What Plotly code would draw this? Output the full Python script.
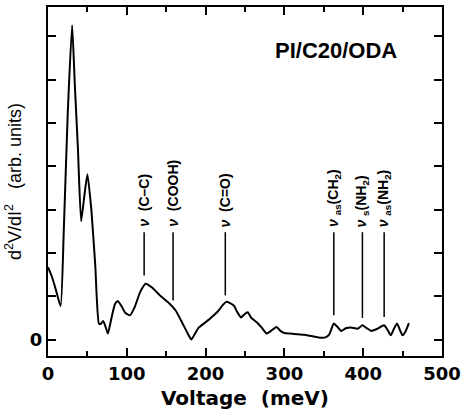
import plotly.graph_objects as go

# Spectrum (voltage in meV, d2V/dI2 in arbitrary units)
voltage = [0, 5, 10, 16, 20, 25, 30.6, 34, 38, 42, 46, 50, 55, 60, 64.6, 67, 70, 73, 76, 80,
           85, 88.5, 93, 98, 104, 110, 117, 124, 132, 142, 153.7, 162, 170, 177, 182, 186,
           191, 200, 208, 216, 222, 226, 231, 236, 240, 245, 249, 253.5, 258, 265, 271,
           277.5, 283, 290, 295, 300, 308, 317, 325, 334, 343, 352, 357, 362.7, 367, 372,
           378, 384.5, 393, 399, 404, 410, 418, 426.5, 431, 435, 439, 443, 447, 450, 454, 458]
signal = [1.67, 1.45, 1.15, 0.77, 2.5, 5.2, 7.26, 5.9, 4.4, 2.73, 3.3, 3.82, 3.0, 1.7, 0.37,
          0.36, 0.43, 0.3, 0.14, 0.45, 0.82, 0.89, 0.78, 0.62, 0.56, 0.75, 1.1, 1.29, 1.2,
          1.02, 0.84, 0.67, 0.4, 0.15, 0.0, 0.12, 0.27, 0.4, 0.52, 0.66, 0.8, 0.87, 0.84,
          0.78, 0.64, 0.51, 0.58, 0.63, 0.5, 0.4, 0.28, 0.14, 0.2, 0.29, 0.2, 0.15, 0.14,
          0.12, 0.11, 0.08, 0.05, 0.05, 0.12, 0.37, 0.3, 0.2, 0.26, 0.28, 0.25, 0.33, 0.27,
          0.2, 0.25, 0.33, 0.22, 0.1, 0.25, 0.37, 0.2, 0.1, 0.2, 0.38]

# Mode assignments
mode_pos = [122, 158.7, 225, 362.7, 399, 426.6]
mode_line_bottom = [1.48, 0.9, 1.02, 0.56, 0.5, 0.52]
mode_line_top = [2.48, 2.48, 2.48, 2.48, 2.48, 2.48]
mode_labels = ["<i>ν</i>  (C–C)", "<i>ν</i>  (COOH)", "<i>ν</i>  (C=O)",
               "<i>ν</i> <sub>as</sub>(CH<sub>2</sub>)", "<i>ν</i> <sub>s</sub>(NH<sub>2</sub>)",
               "<i>ν</i> <sub>as</sub>(NH<sub>2</sub>)"]

x_ticks = [0, 100, 200, 300, 400, 500]
y_ticks = [0, 1, 2, 3, 4, 5, 6, 7]
y_ticktext = ["0", "", "", "", "", "", "", ""]

fig = go.Figure()
fig.add_trace(go.Scatter(x=voltage, y=signal, mode="lines",
                         line=dict(color="black", width=2, shape="spline", smoothing=0.5),
                         showlegend=False, hoverinfo="skip"))

lx, ly = [], []
for p, b, t in zip(mode_pos, mode_line_bottom, mode_line_top):
    lx += [p, p, None]
    ly += [b, t, None]
fig.add_trace(go.Scatter(x=lx, y=ly, mode="lines",
                         line=dict(color="black", width=1.5), showlegend=False,
                         hoverinfo="skip"))

for p, t, lab in zip(mode_pos, mode_line_top, mode_labels):
    fig.add_annotation(x=p, y=t, text=lab, textangle=-90, showarrow=False,
                       xanchor="center", yanchor="bottom", yshift=3,
                       font=dict(family="Liberation Sans", size=14, color="black",
                                 weight="bold"))

fig.add_annotation(x=0.73, y=0.875, xref="paper", yref="paper", text="PI/C20/ODA",
                   showarrow=False, xanchor="center", yanchor="middle",
                   font=dict(family="Liberation Sans", size=22, color="black", weight="bold"))

axis_common = dict(showline=True, linecolor="black", linewidth=2, mirror="ticks",
                   ticks="inside", ticklen=8, tickwidth=1.5, tickcolor="black",
                   showgrid=False, zeroline=False)

fig.update_xaxes(range=[0, 500], tickvals=x_ticks,
                 minor=dict(dtick=50, ticks="inside", ticklen=5, tickwidth=1.5,
                            tickcolor="black"),
                 tickfont=dict(family="DejaVu Sans", size=18, color="black", weight="bold"),
                 title=dict(text="Voltage  (meV)", standoff=8,
                            font=dict(family="DejaVu Sans", size=20, color="black",
                                      weight="bold")),
                 **axis_common)
fig.update_yaxes(range=[-0.38, 7.68], tickvals=y_ticks, ticktext=y_ticktext,
                 tickfont=dict(family="DejaVu Sans", size=18, color="black", weight="bold"),
                 title=dict(text="d<sup>2</sup>V/dI<sup>2</sup>   (arb. units)", standoff=4,
                            font=dict(family="Liberation Sans", size=18, color="black")),
                 **axis_common)

fig.update_layout(width=466, height=412, margin=dict(l=48, r=21, t=5, b=56),
                  plot_bgcolor="white", paper_bgcolor="white")

fig.write_html("out.html")
